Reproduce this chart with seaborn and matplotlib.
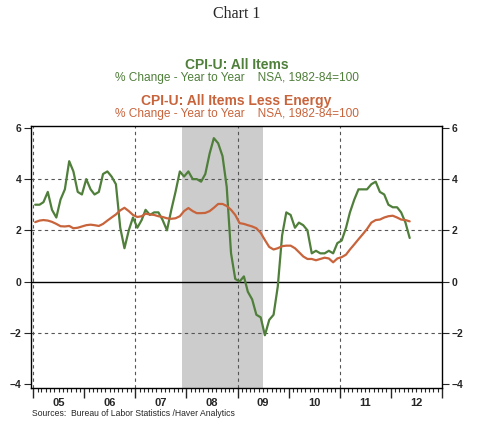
import pandas as pd
import numpy as np
import matplotlib
matplotlib.use("Agg")
import matplotlib.pyplot as plt
import matplotlib.dates as mdates
import seaborn as sns

# monthly, Jan 2005 - May 2012, % change year to year
all_items = [3.0, 3.0, 3.1, 3.5, 2.8, 2.5, 3.2, 3.6, 4.7, 4.3, 3.5, 3.4,
             4.0, 3.6, 3.4, 3.5, 4.2, 4.3, 4.1, 3.8, 2.1, 1.3, 2.0, 2.5,
             2.1, 2.4, 2.8, 2.6, 2.7, 2.7, 2.4, 2.0, 2.8, 3.5, 4.3, 4.1,
             4.3, 4.0, 4.0, 3.9, 4.2, 5.0, 5.6, 5.4, 4.9, 3.7, 1.1, 0.1,
             0.0, 0.2, -0.4, -0.7, -1.3, -1.4, -2.1, -1.5, -1.3, -0.2, 1.8, 2.7,
             2.6, 2.1, 2.3, 2.2, 2.0, 1.1, 1.2, 1.1, 1.1, 1.2, 1.1, 1.5,
             1.6, 2.1, 2.7, 3.2, 3.6, 3.6, 3.6, 3.8, 3.9, 3.5, 3.4, 3.0,
             2.9, 2.9, 2.7, 2.3, 1.7]
less_energy = [2.32, 2.38, 2.40, 2.38, 2.33, 2.25, 2.16, 2.15, 2.17, 2.08, 2.10, 2.15,
               2.20, 2.22, 2.20, 2.17, 2.25, 2.38, 2.50, 2.62, 2.78, 2.88, 2.75, 2.60,
               2.52, 2.55, 2.65, 2.62, 2.60, 2.55, 2.52, 2.47, 2.45, 2.47, 2.55, 2.75,
               2.87, 2.75, 2.67, 2.67, 2.68, 2.75, 2.88, 3.03, 3.03, 2.95, 2.80, 2.60,
               2.28, 2.25, 2.20, 2.15, 2.08, 1.90, 1.62, 1.35, 1.25, 1.30, 1.38, 1.40,
               1.40, 1.30, 1.15, 0.98, 0.88, 0.88, 0.83, 0.88, 0.93, 0.90, 0.75, 0.90,
               0.95, 1.05, 1.25, 1.45, 1.65, 1.85, 2.05, 2.30, 2.40, 2.42, 2.50, 2.55,
               2.57, 2.50, 2.42, 2.40, 2.35]
months = pd.date_range("2005-01-01", periods=len(all_items), freq="MS") + pd.Timedelta(days=14)
recession = ("2007-12-01", "2009-06-30")
year_labels = ["05", "06", "07", "08", "09", "10", "11", "12"]

green = "#4f7f3a"
orange = "#c8643c"

df = pd.DataFrame({
    "date": np.concatenate([months, months]),
    "value": all_items + less_energy,
    "series": ["All Items"] * len(months) + ["Less Energy"] * len(months),
})

sns.set_style("white")
plt.rcParams["font.family"] = ["Liberation Sans", "DejaVu Sans"]

fig = plt.figure(figsize=(4.8, 4.29), dpi=100)
ax = fig.add_axes([0.0646, 0.0956, 0.8562, 0.6104])

ax.axvspan(pd.Timestamp(recession[0]), pd.Timestamp(recession[1]), color="#cccccc", lw=0, zorder=0)
for y in [4, 2, -2]:
    ax.axhline(y, color="#555555", ls=(0, (3, 3)), lw=0.8, zorder=1)
for yr in [2005, 2007, 2009, 2011]:
    ax.axvline(pd.Timestamp(f"{yr}-01-01"), color="#555555", ls=(0, (3, 3)), lw=0.8, zorder=1)
ax.axhline(0, color="black", lw=1.0, zorder=1)

sns.lineplot(data=df, x="date", y="value", hue="series",
             palette={"All Items": green, "Less Energy": orange},
             linewidth=1.6, legend=False, ax=ax, zorder=3)

ax.set_xlim(pd.Timestamp("2004-12-16"), pd.Timestamp("2013-01-01"))
ax.set_ylim(-4.16, 6.07)
ax.set_xlabel("")
ax.set_ylabel("")

for s in ax.spines.values():
    s.set_color("black")
    s.set_linewidth(1.0)

ax.set_yticks([6, 4, 2, 0, -2, -4])
ax.tick_params(axis="y", which="both", left=True, right=True, labelleft=True, labelright=True,
               direction="out", length=5, width=0.8, labelsize=7.5, pad=2)
for lab in ax.get_yticklabels():
    lab.set_fontweight("bold")

ax.xaxis.set_major_locator(mdates.YearLocator())
ax.xaxis.set_minor_locator(mdates.MonthLocator())
ax.xaxis.set_major_formatter(plt.NullFormatter())
ax.tick_params(axis="x", which="major", direction="out", length=7, width=1.0, bottom=True)
ax.tick_params(axis="x", which="minor", direction="out", length=3, width=0.8, bottom=True)

sec = ax.secondary_xaxis("bottom")
sec.set_xticks([pd.Timestamp(f"20{y}-07-01") for y in year_labels])
sec.set_xticklabels(year_labels, fontweight="bold", fontsize=8)
sec.tick_params(length=0, pad=7)
sec.spines["bottom"].set_visible(False)

fig.text(0.493, 0.967, "Chart 1", ha="center", va="center", fontsize=11.5, family="Liberation Serif")
fig.text(0.493, 0.848, "CPI-U: All Items", ha="center", va="center", fontsize=10,
         fontweight="bold", color=green)
fig.text(0.493, 0.818, "% Change - Year to Year    NSA, 1982-84=100", ha="center", va="center",
         fontsize=8.6, color=green)
fig.text(0.493, 0.765, "CPI-U: All Items Less Energy", ha="center", va="center", fontsize=10,
         fontweight="bold", color=orange)
fig.text(0.493, 0.734, "% Change - Year to Year    NSA, 1982-84=100", ha="center", va="center",
         fontsize=8.6, color=orange)
fig.text(0.066, 0.036, "Sources:  Bureau of Labor Statistics /Haver Analytics", ha="left",
         va="center", fontsize=6.2)

fig.savefig("out.png", dpi=100)
